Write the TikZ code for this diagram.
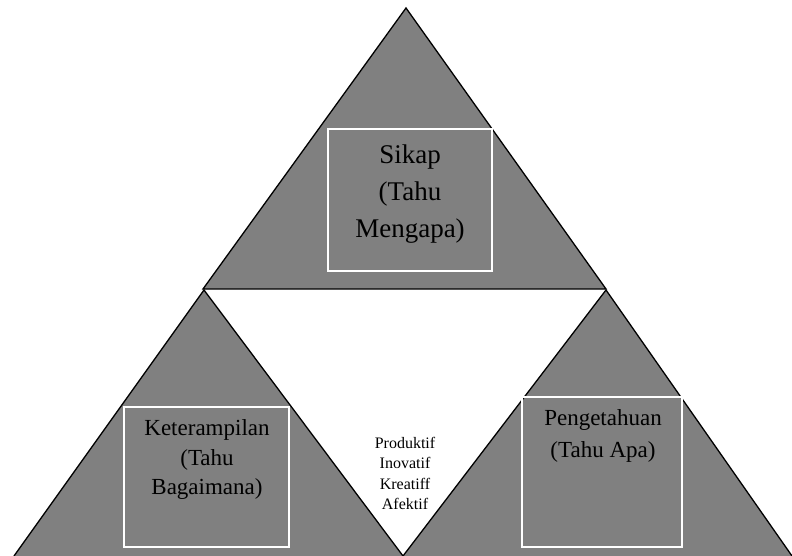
\documentclass[tikz,border=0pt]{standalone}
\usepackage{fontspec}
\setmainfont{Liberation Serif}
\usetikzlibrary{positioning}
\definecolor{trigray}{HTML}{808080}

\begin{document}
\begin{tikzpicture}[x=1pt, y=-1pt, line join=miter,
  tri/.style={fill=trigray, draw=black, line width=1.3pt},
  wbox/.style={draw=white, line width=1.3pt, inner sep=0pt},
  lab/.style={anchor=north, align=center, inner sep=0pt}]

\useasboundingbox (0,0) rectangle (792,556);

% ---- the three triangles ---------------------------------------------
\path[tri] (406,8) -- (203,289) -- (606,289) -- cycle;
\path[tri] (14,556) -- (204,290) -- (403,556);
\path[tri] (403,556) -- (606,290) -- (792,556);

% ---- boxes -------------------------------------------------------------
\node[wbox, minimum width=164, minimum height=142] (sikap) at (410,200) {};
\node[wbox, minimum width=165, minimum height=140] (terampil) at (206.5,477) {};
\node[wbox, minimum width=160, minimum height=150] (tahu) at (602,472) {};

% ---- labels ------------------------------------------------------------
\node[lab, font=\fontsize{27}{37}\selectfont] (sikaplab) at (410,145)
  {Sikap\\(Tahu\\Mengapa)};
\node[lab, font=\fontsize{23}{29.5}\selectfont] (terampillab) at (207,419.5)
  {Keterampilan\\(Tahu\\Bagaimana)};
\node[lab, font=\fontsize{23}{32}\selectfont] (tahulab) at (603,409.5)
  {Pengetahuan\\(Tahu Apa)};
\node[lab, font=\fontsize{16}{20.5}\selectfont] (sifat) at (405,437)
  {Produktif\\Inovatif\\Kreatiff\\Afektif};

\end{tikzpicture}
\end{document}
